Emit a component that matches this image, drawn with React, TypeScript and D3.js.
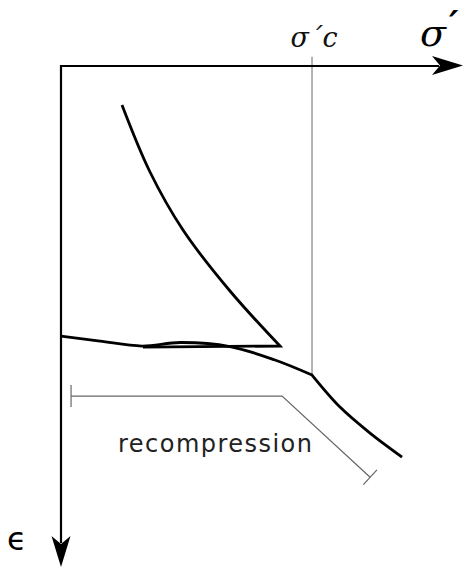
import React from "react";
import * as d3 from "d3";

// Effective stress (σ′) and strain (ϵ) in arbitrary units.
// Recompression branch: from the origin side up to the preconsolidation stress.
const recompSigma = [0, 0.97, 2.015, 2.96, 4.204, 5.323, 6.244];
const recompStrain = [6.455, 6.575, 6.694, 6.61, 6.706, 7.029, 7.387];

// Virgin compression branch beyond σ′c.
const virginSigma = [6.244, 6.94, 7.687, 8.483];
const virginStrain = [7.387, 8.152, 8.774, 9.347];

// Loading curve ending at the apex, then unloading back at nearly constant strain.
const loadSigma = [1.517, 2.214, 3.035, 4.204, 5.448];
const loadStrain = [0.932, 2.534, 3.921, 5.379, 6.694];
const unloadSigma = [5.448, 2.04];
const unloadStrain = [6.694, 6.72];

// Preconsolidation stress.
const sigmaC = 6.244;
const sigmaCTop = -0.22;

// Range bracket for the recompression annotation.
const bracketSigma = [0.25, 5.5, 7.69];
const bracketStrain = [7.89, 7.89, 9.83];

const labels = {
  xAxis: "σ",
  xAxisPrime: "′",
  yAxis: "ϵ",
  sigmaC: "σ´c",
  bracket: "recompression",
};

const W = 464;
const H = 569;

export default function App() {
  const x = d3.scaleLinear().domain([0, 10]).range([61, 463]);
  const y = d3.scaleLinear().domain([0, 12]).range([66, 568]);

  const smooth = d3
    .line<[number, number]>()
    .x((d) => x(d[0]))
    .y((d) => y(d[1]))
    .curve(d3.curveCatmullRom.alpha(0.5));
  const straight = d3
    .line<[number, number]>()
    .x((d) => x(d[0]))
    .y((d) => y(d[1]));

  const zip = (a: number[], b: number[]) => a.map((v, i) => [v, b[i]] as [number, number]);

  const recompPath = smooth(zip(recompSigma, recompStrain)) || "";
  const virginPath = (smooth(zip(virginSigma, virginStrain)) || "").replace(/^M[^C]*/, "");
  const loadPath = smooth(zip(loadSigma, loadStrain)) || "";
  const unloadPath = (straight(zip(unloadSigma, unloadStrain)) || "").replace(/^M[^L]*/, "");

  const x0 = x(0);
  const y0 = y(0);
  const xEnd = x(10);
  const yEnd = y(12) - 1;

  // Notched arrowheads at the ends of both axes.
  const hArrow = `M${xEnd},${y0 - 0.5} L${xEnd - 31},${y0 - 10} L${xEnd - 23},${y0 - 0.5} L${xEnd - 31},${y0 + 9} Z`;
  const vArrow = `M${x0},${yEnd} L${x0 - 9.5},${yEnd - 31} L${x0},${yEnd - 23} L${x0 + 9.5},${yEnd - 31} Z`;

  // Bracket geometry
  const bx = bracketSigma.map((v) => x(v));
  const by = bracketStrain.map((v) => y(v));
  const bracketPath = `M${bx[0]},${by[0]} L${bx[1]},${by[1]} L${bx[2]},${by[2]}`;
  const dx = bx[2] - bx[1];
  const dy = by[2] - by[1];
  const len = Math.hypot(dx, dy);
  const px = (-dy / len) * 10;
  const py = (dx / len) * 10;

  return (
    <svg
      width={W}
      height={H}
      viewBox={`0 0 ${W} ${H}`}
      style={{ position: "absolute", left: 0, top: 0, background: "#fff" }}
    >
      {/* σ′c reference line */}
      <line
        x1={x(sigmaC)}
        x2={x(sigmaC)}
        y1={y(sigmaCTop)}
        y2={y(recompStrain[recompStrain.length - 1])}
        stroke="#777"
        strokeWidth={1.1}
      />

      {/* axes */}
      <line x1={x0} x2={xEnd - 24} y1={y0} y2={y0} stroke="#000" strokeWidth={2.2} />
      <line x1={x0} x2={x0} y1={y0 - 1.1} y2={yEnd - 24} stroke="#000" strokeWidth={2.2} />
      <path d={hArrow} fill="#000" />
      <path d={vArrow} fill="#000" />

      {/* curves */}
      <path
        d={recompPath + virginPath}
        fill="none"
        stroke="#000"
        strokeWidth={2.8}
        strokeLinejoin="miter"
      />
      <path
        d={loadPath + unloadPath}
        fill="none"
        stroke="#000"
        strokeWidth={2.8}
        strokeLinejoin="miter"
        strokeMiterlimit={20}
      />

      {/* recompression bracket */}
      <path d={bracketPath} fill="none" stroke="#666" strokeWidth={1.2} />
      <line x1={bx[0]} x2={bx[0]} y1={by[0] - 11} y2={by[0] + 11} stroke="#666" strokeWidth={1.2} />
      <line
        x1={bx[2] - px}
        y1={by[2] - py}
        x2={bx[2] + px}
        y2={by[2] + py}
        stroke="#666"
        strokeWidth={1.2}
      />

      {/* labels */}
      <text
        x={118}
        y={452}
        fontFamily="DejaVu Sans"
        fontSize={24}
        textLength={194}
        lengthAdjust="spacing"
        fill="#222"
      >
        {labels.bracket}
      </text>
      <text
        x={x(sigmaC) + 2}
        y={47}
        textAnchor="middle"
        fontFamily="DejaVu Serif"
        fontStyle="italic"
        fontSize={27}
        fill="#111"
      >
        {labels.sigmaC}
      </text>
      <text
        x={420}
        y={46}
        fontFamily="DejaVu Serif"
        fontStyle="italic"
        fontSize={38}
        fill="#000"
      >
        {labels.xAxis}
      </text>
      <text
        x={449}
        y={36}
        fontFamily="DejaVu Serif"
        fontStyle="italic"
        fontWeight="bold"
        fontSize={36}
        fill="#000"
      >
        {labels.xAxisPrime}
      </text>
      <text x={7} y={550} fontFamily="DejaVu Sans" fontSize={32} fill="#000">
        {labels.yAxis}
      </text>
    </svg>
  );
}
